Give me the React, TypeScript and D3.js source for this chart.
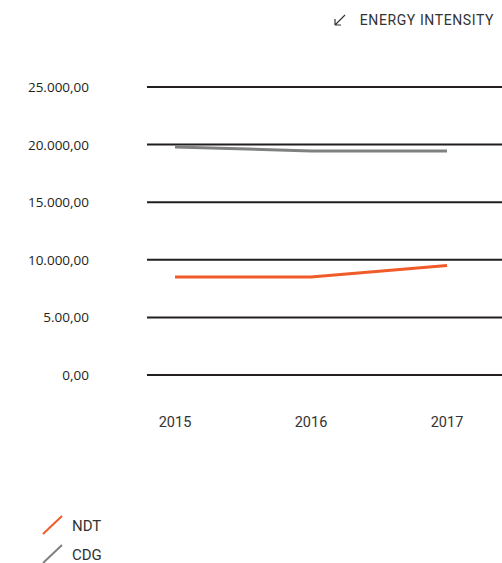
import React from 'react';
import * as d3 from 'd3';

const years: string[] = ['2015', '2016', '2017'];
const ndt: number[] = [8500, 8500, 9500];
const cdg: number[] = [19800, 19450, 19450];
const yTicks: number[] = [0, 5000, 10000, 15000, 20000, 25000];
const yTickLabels: string[] = ['0,00', '5.00,00', '10.000,00', '15.000,00', '20.000,00', '25.000,00'];
const seriesNames: string[] = ['NDT', 'CDG'];
const seriesColors: string[] = ['#f15a29', '#808080'];

const x = d3.scalePoint<string>().domain(years).range([175, 447]);
const y = d3.scaleLinear().domain([0, 25000]).range([375, 87]);

export default function App() {
  const line = d3.line<number>()
    .x((d, i) => x(years[i]) as number)
    .y(d => y(d));
  const series = [ndt, cdg];

  return (
    <svg width={502} height={563} style={{ position: 'absolute', left: 0, top: 0 }}>
      <rect width={502} height={563} fill="#fff" />
      <g fontFamily="Roboto, sans-serif" fill="#333">
        <path d="M335,25 L345,15 M335,25 L335,19 M335,25 L341,25" stroke="#333" strokeWidth={1.2} fill="none" />
        <text x={494} y={25} textAnchor="end" fontSize={14} letterSpacing={0.6}>ENERGY INTENSITY</text>
      </g>
      <g>
        {yTicks.map((t, i) => (
          <g key={t}>
            <line x1={147} x2={502} y1={y(t)} y2={y(t)} stroke="#231f20" strokeWidth={2} />
            <text x={89} y={y(t) + 5} textAnchor="end" fontSize={13.5}
              fontFamily="'Open Sans', sans-serif" fill="#231f20">{yTickLabels[i]}</text>
          </g>
        ))}
      </g>
      {series.map((s, i) => (
        <path key={i} d={line(s) as string} fill="none" stroke={seriesColors[i]} strokeWidth={3} />
      ))}
      <g fontFamily="Roboto, sans-serif" fontSize={14.5} fill="#333">
        {years.map(yr => (
          <text key={yr} x={x(yr)} y={427} textAnchor="middle">{yr}</text>
        ))}
      </g>
      <g fontFamily="Roboto, sans-serif" fontSize={15} fill="#333">
        {seriesNames.map((n, i) => (
          <g key={n} transform={`translate(0, ${i * 29})`}>
            <line x1={43} y1={534} x2={62} y2={516} stroke={seriesColors[i]} strokeWidth={2} />
            <text x={72} y={531}>{n}</text>
          </g>
        ))}
      </g>
    </svg>
  );
}
